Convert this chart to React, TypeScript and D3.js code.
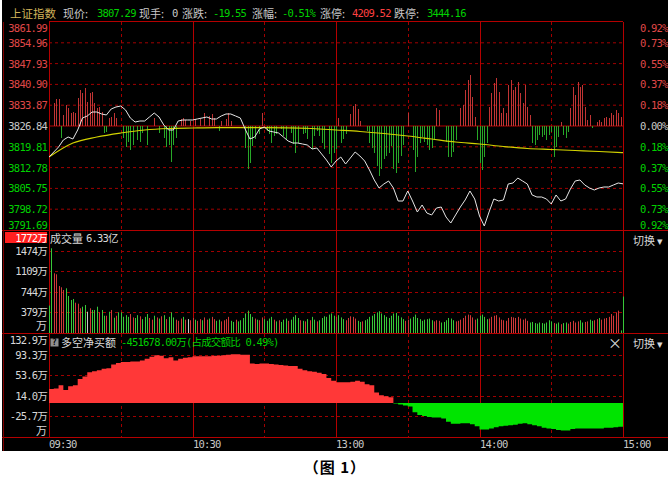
import React from 'react';
import * as d3 from 'd3';

// price sampled every 2 minutes, 09:30 -> 15:00
const prices = [
  3816.36, 3818.05, 3819.74, 3822.11, 3823.12, 3822.45, 3825.49, 3829.54, 3830.22, 3831.57,
  3831.57, 3830.9, 3830.56, 3832.59, 3833.26, 3833.6, 3832.25, 3829.54, 3828.19, 3828.53,
  3828.53, 3829.88, 3831.23, 3829.88, 3827.18, 3825.49, 3825.49, 3828.53, 3828.87, 3828.87,
  3828.87, 3829.21, 3829.54, 3829.88, 3829.21, 3829.21, 3830.22, 3830.9, 3830.9, 3830.22,
  3829.54, 3825.83, 3822.45, 3823.12, 3825.83, 3826.5, 3825.15, 3824.81, 3824.47, 3823.12,
  3821.77, 3821.09, 3821.09, 3820.76, 3820.42, 3819.07, 3819.4, 3817.38, 3815.35, 3812.98,
  3815.01, 3816.36, 3814.0, 3816.02, 3818.05, 3816.7, 3815.01, 3811.97, 3808.59, 3805.88,
  3807.24, 3808.25, 3805.88, 3801.49, 3801.49, 3804.87, 3801.49, 3797.77, 3800.14, 3797.43,
  3796.76, 3799.12, 3799.46, 3796.08, 3794.05, 3796.76, 3799.46, 3801.83, 3804.87, 3802.17,
  3796.42, 3793.04, 3797.77, 3802.17, 3801.49, 3801.83, 3807.24, 3807.57, 3809.26, 3808.25,
  3807.24, 3803.52, 3802.84, 3802.84, 3802.17, 3800.48, 3803.52, 3801.49, 3802.17, 3805.55,
  3808.25, 3808.59, 3806.9, 3805.88, 3805.21, 3805.88, 3806.22, 3806.22, 3806.9, 3807.57,
  3807.29,
];

// average price every 10 minutes
const avgPrices = [
  3816.36, 3821.09, 3823.12, 3824.47, 3825.49, 3825.99, 3826.16, 3826.27, 3826.27, 3826.27,
  3826.23, 3825.99, 3825.49, 3824.98, 3824.3, 3823.46, 3822.45, 3821.43, 3820.76, 3819.91,
  3819.23, 3818.9, 3818.56, 3818.22, 3817.82,
];

// red / green strength bars, one per minute
const breadth = [
  0, 0, 23, 27, 27, -12, 11, 21, 18, 13,
  14, 13, 28, 36, 33, 38, 24, 33, 34, 23,
  18, 19, 14, -7, -6, 8, 9, 13, 8, 0,
  0, -12, -21, -16, -24, -19, 0, -14, -16, -7,
  0, -19, 0, 0, 8, 0, -7, 0, -12, -21,
  -19, -36, -19, -12, 0, 7, 8, 6, 0, 5,
  0, 7, 0, 7, 0, 13, 0, 10, 12, 8,
  0, -5, 5, 0, 7, 13, 5, 0, 0, 0,
  0, 0, -22, -43, -37, -20, -13, 0, -8, 13,
  0, -5, -8, -17, -10, -8, 0, -3, -10, -13,
  0, -7, -18, -27, -17, 0, -8, -7, -13, 0,
  -23, -10, -5, -10, -17, -23, 0, -28, -37, -27,
  -23, 8, -17, -13, -8, 0, 12, 20, 22, 17,
  5, 0, 0, -5, -17, -22, -27, -40, -50, -43,
  -33, -30, -27, -20, -43, -47, -37, -30, -19, 0,
  13, 0, -24, -46, -31, -17, -11, -16, -19, -24,
  -22, -14, 18, 16, 0, 0, -16, -31, -31, -26,
  -14, 0, 18, 21, 36, 46, 51, 29, 9, -14,
  -37, -44, -31, -17, 19, 33, 43, 48, 34, 13,
  18, 13, 41, 46, 36, 39, 44, 33, 23, 41,
  19, 11, -17, -19, -14, -9, -11, -9, -14, -9,
  -6, -31, -21, -11, 4, -9, -12, -6, 18, 39,
  31, 44, 39, 41, 19, 6, 11, -2, 0, 4,
  6, 4, 8, 9, 8, 13, 11, 16, 13, 9,
  0,
];

// volume per minute (万)
const volumes = [
  500, 1515, 1072, 1054, 847, 824, 776, 806, 670, 599,
  617, 551, 533, 452, 480, 510, 391, 452, 422, 422,
  480, 381, 422, 320, 320, 391, 422, 285, 320, 381,
  381, 302, 330, 300, 350, 290, 280, 330, 310, 260,
  300, 350, 280, 250, 320, 290, 270, 310, 330, 260,
  300, 380, 290, 250, 230, 270, 300, 250, 260, 240,
  280, 250, 230, 260, 240, 290, 250, 270, 300, 260,
  230, 250, 220, 240, 260, 300, 230, 210, 250, 220,
  240, 280, 360, 410, 350, 300, 270, 250, 240, 290,
  260, 230, 270, 300, 250, 220, 240, 210, 250, 270,
  230, 250, 300, 330, 280, 240, 230, 220, 260, 240,
  300, 250, 220, 240, 280, 310, 300, 340, 360, 320,
  300, 330, 290, 260, 240, 280, 310, 300, 270, 230,
  210, 220, 240, 260, 300, 320, 350, 380, 400, 360,
  330, 300, 280, 320, 360, 370, 320, 290, 260, 230,
  250, 270, 300, 340, 280, 260, 230, 250, 260, 270,
  240, 220, 240, 230, 200, 210, 240, 280, 270, 240,
  220, 230, 250, 280, 320, 340, 330, 290, 250, 270,
  320, 340, 300, 260, 270, 300, 320, 330, 290, 250,
  240, 230, 280, 300, 290, 280, 300, 270, 250, 270,
  230, 200, 210, 190, 180, 200, 190, 180, 200, 240,
  220, 190, 180, 200, 170, 190, 200, 180, 210, 230,
  200, 220, 240, 200, 210, 220, 250, 230, 240, 260,
  280, 250, 270, 280, 300, 350, 320, 380, 410, 60,
  660,
];

// r = up, g = down, w = flat
const volColors =
  'ggrrrrrggg' + 'grrrggwrgg' + 'grggrgrgrg' + 'ggggrrggrg' + 'ggrrgrgrgr' +
  'gggrrrgrwr' + 'rgrrgrrgrr' + 'ggrrrrggrg' + 'ggggggrgrr' + 'ggggrgrggg' +
  'rggggrgrgr' + 'ggrggggggg' + 'rgggrrrrrg' + 'grgggggggg' + 'gggggggggr' +
  'rggggggggg' + 'grrrgggggg' + 'rrrrrrrrrg' + 'ggggrrrrrr' + 'rrrrrrrrrr' +
  'rggggggggg' + 'grggrggrrr' + 'rrggrrggrr' + 'grrrrrrrrg' + 'g';

// net buy amount every 2 minutes (万)
const netBuy = [
  27, 28, 34, 25, 32, 34, 46, 51, 59, 61,
  63, 66, 67, 74, 77, 79, 79, 80, 80, 82,
  85, 89, 92, 91, 86, 88, 82, 85, 87, 88,
  90, 90, 90, 90, 91, 91, 92, 93, 94, 94,
  93, 93, 76, 75, 76, 76, 75, 74, 73, 72,
  71, 71, 66, 63, 61, 60, 58, 56, 48, 43,
  40, 40, 40, 41, 43, 41, 36, 34, 20, 15,
  13, 11, -1, -3, -5, -7, -18, -23, -25, -27,
  -28, -28, -30, -36, -40, -40, -39, -39, -41, -45,
  -51, -51, -49, -47, -45, -44, -43, -42, -40, -39,
  -41, -43, -45, -48, -49, -50, -52, -53, -53, -50,
  -49, -49, -49, -49, -49, -49, -48, -48, -47, -46,
  -43,
];

const priceTicks = [3861.99, 3854.96, 3847.93, 3840.9, 3833.87, 3826.84, 3819.81, 3812.78, 3805.75, 3798.72, 3791.69];
const pctLabels = ['0.92%', '0.73%', '0.55%', '0.37%', '0.18%', '0.00%', '0.18%', '0.37%', '0.55%', '0.73%', '0.92%'];
const volTicks = [1474, 1109, 744, 379];
const netTicks = [93.3, 53.6, 14.0, -25.7];
const timeLabels = [
  { t: 0, label: '09:30' },
  { t: 60, label: '10:30' },
  { t: 120, label: '13:00' },
  { t: 180, label: '14:00' },
  { t: 240, label: '15:00' },
];
const header = [
  { x: 63, text: '现价:', c: '#c8c8c8' },
  { x: 97, text: '3807.29', c: '#00d000', num: true },
  { x: 139, text: '现手:', c: '#c8c8c8' },
  { x: 172, text: '0', c: '#c8c8c8', num: true },
  { x: 182, text: '涨跌:', c: '#c8c8c8' },
  { x: 213, text: '-19.55', c: '#00d000', num: true },
  { x: 252, text: '涨幅:', c: '#c8c8c8' },
  { x: 282, text: '-0.51%', c: '#00d000', num: true },
  { x: 320, text: '涨停:', c: '#c8c8c8' },
  { x: 352, text: '4209.52', c: '#ff4040', num: true },
  { x: 394, text: '跌停:', c: '#c8c8c8' },
  { x: 427, text: '3444.16', c: '#00d000', num: true },
];

const BASE = 3826.84;
const L = 49;
const R = 623;
const MONO = "'DejaVu Sans Mono', 'Noto Sans CJK SC', monospace";
const CJK = "'Noto Sans CJK SC', sans-serif";
const GRID = '#a00000';
const FRAME = '#b40000';

const x = d3.scaleLinear().domain([0, 240]).range([L, R]);
const yPrice = d3.scaleLinear().domain([3791.69, 3861.99]).range([230, 22]);
const yBreadth = d3.scaleLinear().domain([-104, 104]).range([230, 22]);
const yVol = d3.scaleLinear().domain([14, 1839]).range([333, 230]);
const yNet = d3.scaleLinear().domain([-65.6, 132.9]).range([437, 334]);

const priceLine = d3.line<number>().x((_, i) => x(i * 2)).y(d => yPrice(d));
const avgLine = d3.line<number>().x((_, i) => x(i * 10)).y(d => yPrice(d)).curve(d3.curveMonotoneX);
const netArea = d3
  .area<number>()
  .x((_, i) => x(i * 2))
  .y0(yNet(0))
  .y1(d => yNet(d))
  .curve(d3.curveStepAfter);

const volFill: Record<string, string> = { r: '#d03838', g: '#38c838', w: '#c8c8c8' };

export default function App() {
  const vLines = d3.range(0, 241, 30);
  return (
    <div>
      <style>{'body{margin:0;background:#fff}'}</style>
      <svg width={670} height={491} style={{ display: 'block' }}>
        <rect x={0} y={0} width={670} height={491} fill="#fff" />
        <rect x={2} y={0} width={666} height={451} fill="#000" />
        <defs>
          <clipPath id="mainClip"><rect x={L} y={22} width={R - L} height={208} /></clipPath>
          <clipPath id="netUp"><rect x={L} y={334} width={R - L} height={yNet(0) - 334} /></clipPath>
          <clipPath id="netDown"><rect x={L} y={yNet(0)} width={R - L} height={437 - yNet(0)} /></clipPath>
        </defs>

        {/* header */}
        <text x={10} y={13} fill="#d2b45a" fontFamily={CJK} fontSize={11.5} dominantBaseline="central">上证指数</text>
        {header.map((h, i) => (
          <text key={i} x={h.x} y={13} fill={h.c} fontFamily={h.num ? MONO : CJK}
            fontSize={h.num ? 10.5 : 11} letterSpacing={h.num ? -0.8 : 0} dominantBaseline="central">{h.text}</text>
        ))}

        {/* horizontal grid: main */}
        {priceTicks.slice(1, -1).map(p => (
          <line key={p} x1={L} x2={R} y1={yPrice(p)} y2={yPrice(p)}
            stroke={p === BASE ? FRAME : GRID} strokeDasharray={p === BASE ? undefined : '3,3'} />
        ))}
        {volTicks.map(v => (
          <line key={v} x1={L} x2={R} y1={Math.round(yVol(v)) + 0.5} y2={Math.round(yVol(v)) + 0.5} stroke={GRID} strokeDasharray="3,3" />
        ))}
        {netTicks.map(v => (
          <line key={v} x1={L} x2={R} y1={Math.round(yNet(v)) + 0.5} y2={Math.round(yNet(v)) + 0.5} stroke={GRID} strokeDasharray="3,3" />
        ))}
        {/* vertical grid */}
        {vLines.map(t => (
          <line key={t} x1={Math.round(x(t)) + 0.5} x2={Math.round(x(t)) + 0.5} y1={22} y2={437}
            stroke={t % 60 === 0 ? FRAME : GRID} strokeDasharray={t % 60 === 0 ? undefined : '3,3'} />
        ))}

        {/* main panel */}
        <g clipPath="url(#mainClip)">
          {breadth.map((b, i) => b === 0 ? null : (
            <rect key={i} x={Math.round(x(i))} width={1}
              y={Math.min(yBreadth(b), yBreadth(0))} height={Math.abs(yBreadth(b) - yBreadth(0))}
              fill={b > 0 ? '#c03434' : '#28a828'} />
          ))}
          <path d={avgLine(avgPrices) ?? ''} fill="none" stroke="#d2d200" strokeWidth={1.2} />
          <path d={priceLine(prices) ?? ''} fill="none" stroke="#e6e6e6" strokeWidth={1} />
        </g>

        {/* volume panel */}
        {volumes.map((v, i) => (
          <rect key={i} x={Math.round(x(i))} width={1} y={yVol(v)} height={333 - yVol(v)}
            fill={volFill[volColors[i]] ?? '#38c838'} />
        ))}

        {/* net buy panel */}
        <path d={netArea(netBuy) ?? ''} fill="#ff3838" clipPath="url(#netUp)" />
        <path d={netArea(netBuy) ?? ''} fill="#00e400" clipPath="url(#netDown)" />

        {/* frames */}
        <line x1={L} x2={R} y1={21.5} y2={21.5} stroke={FRAME} />
        {[230.5, 333.5, 437.5].map(y => (
          <line key={y} x1={2} x2={668} y1={y} y2={y} stroke={FRAME} />
        ))}
        <line x1={3.5} x2={3.5} y1={22} y2={451} stroke="#800000" />

        {/* left price axis */}
        {priceTicks.map((p, i) => {
          const yy = i === 0 ? 28 : i === priceTicks.length - 1 ? 225 : yPrice(p);
          const c = p > BASE ? '#e04848' : p < BASE ? '#00d000' : '#c8c8c8';
          return (
            <text key={p} x={47} y={yy} textAnchor="end" fill={c} fontFamily={MONO} fontSize={10.5}
              letterSpacing={-0.8} dominantBaseline="central">{p.toFixed(2)}</text>
          );
        })}
        {/* right percent axis */}
        {pctLabels.map((s, i) => {
          const yy = i === 0 ? 28 : i === pctLabels.length - 1 ? 225 : yPrice(priceTicks[i]);
          const c = i < 5 ? '#e04848' : i > 5 ? '#00d000' : '#c8c8c8';
          return (
            <text key={i} x={640} y={yy} fill={c} fontFamily={MONO} fontSize={10.5}
              letterSpacing={-0.8} dominantBaseline="central">{s}</text>
          );
        })}

        {/* volume axis */}
        <rect x={5} y={232} width={42} height={11} fill="#ff2020" />
        <text x={47} y={237.5} textAnchor="end" fill="#fff" fontFamily={MONO} fontSize={10.5}
          letterSpacing={-0.8} dominantBaseline="central">1772万</text>
        {volTicks.map(v => (
          <text key={v} x={47} y={yVol(v)} textAnchor="end" fill="#d8d8d8" fontFamily={MONO} fontSize={10.5}
            letterSpacing={-0.8} dominantBaseline="central">{`${v}万`}</text>
        ))}
        <text x={47} y={325} textAnchor="end" fill="#d8d8d8" fontFamily={CJK} fontSize={11} dominantBaseline="central">万</text>
        <text x={50} y={238} fill="#d8d8d8" fontFamily={CJK} fontSize={11} dominantBaseline="central">成交量</text>
        <text x={86} y={238} fill="#d8d8d8" fontFamily={MONO} fontSize={10.5} letterSpacing={-0.8} dominantBaseline="central">6.33亿</text>
        <text x={633} y={240} fill="#d8d8d8" fontFamily={CJK} fontSize={11} dominantBaseline="central">切换 ▾</text>

        {/* net buy axis */}
        <text x={47} y={340} textAnchor="end" fill="#d8d8d8" fontFamily={MONO} fontSize={10.5}
          letterSpacing={-0.8} dominantBaseline="central">132.9万</text>
        {netTicks.map(v => (
          <text key={v} x={47} y={yNet(v)} textAnchor="end" fill="#d8d8d8" fontFamily={MONO} fontSize={10.5}
            letterSpacing={-0.8} dominantBaseline="central">{`${v.toFixed(1)}万`}</text>
        ))}
        <text x={47} y={430} textAnchor="end" fill="#d8d8d8" fontFamily={CJK} fontSize={11} dominantBaseline="central">万</text>
        <rect x={50.5} y={338.5} width={8} height={8} fill="#909090" />
        <text x={54.5} y={342.5} textAnchor="middle" fill="#000" fontFamily={MONO} fontSize={8} fontWeight="bold" dominantBaseline="central">?</text>
        <text x={61} y={342} fill="#d8d8d8" fontFamily={CJK} fontSize={11} dominantBaseline="central">多空净买额</text>
        <text x={121} y={342} fill="#00d000" fontFamily={MONO} fontSize={10.5} letterSpacing={-0.8} dominantBaseline="central">-451678.00万(占成交额比 0.49%)</text>
        <text x={615} y={342} textAnchor="middle" fill="#d8d8d8" fontFamily={CJK} fontSize={14} dominantBaseline="central">×</text>
        <text x={633} y={343} fill="#d8d8d8" fontFamily={CJK} fontSize={11} dominantBaseline="central">切换 ▾</text>

        {/* time axis */}
        {timeLabels.map(d => (
          <text key={d.t} x={Math.round(x(d.t))} y={444} fill="#c8c8c8" fontFamily={MONO} fontSize={10.5}
            letterSpacing={-0.8} dominantBaseline="central">{d.label}</text>
        ))}

        <text x={335} y={466} textAnchor="middle" fill="#000" fontFamily={CJK} fontSize={15} fontWeight="bold"
          letterSpacing={1} dominantBaseline="central">（图 1）</text>
      </svg>
    </div>
  );
}
